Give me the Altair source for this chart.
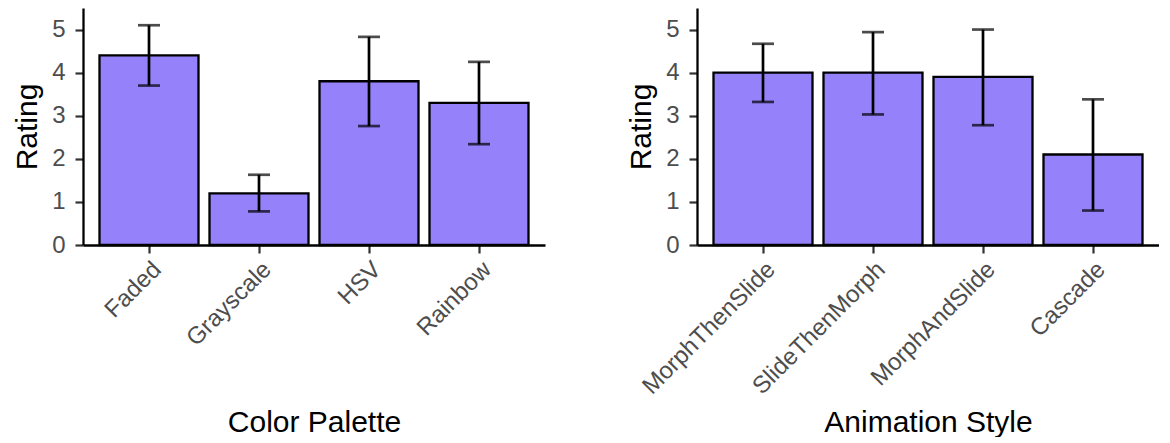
import altair as alt
import pandas as pd

palette_names = ["Faded", "Grayscale", "HSV", "Rainbow"]
palette_mean = [4.4, 1.2, 3.8, 3.3]
palette_lo = [3.7, 0.78, 2.76, 2.34]
palette_hi = [5.1, 1.63, 4.83, 4.25]

anim_names = ["MorphThenSlide", "SlideThenMorph", "MorphAndSlide", "Cascade"]
anim_mean = [4.0, 4.0, 3.9, 2.1]
anim_lo = [3.32, 3.03, 2.78, 0.8]
anim_hi = [4.67, 4.94, 5.0, 3.38]

FILL = "#9581F9"
FONT = "Liberation Sans"


def panel(names, mean, lo, hi, xtitle):
    df = pd.DataFrame({"cat": names, "mean": mean, "lo": lo, "hi": hi})
    x = alt.X(
        "cat:N",
        sort=names,
        title=xtitle,
        scale=alt.Scale(paddingInner=0.1, paddingOuter=0.15),
        axis=alt.Axis(
            labelAngle=-45,
            labelAlign="right",
            labelBaseline="top",
            labelPadding=4,
            titleY=186,
            titleBaseline="alphabetic",
        ),
    )
    y = alt.Y(
        "mean:Q",
        title="Rating",
        scale=alt.Scale(domain=[0, 5.5], nice=False, zero=True),
        axis=alt.Axis(values=[0, 1, 2, 3, 4, 5], labelPadding=10, titlePadding=9),
    )
    base = alt.Chart(df)
    bars = base.mark_bar(fill=FILL, stroke="black", strokeWidth=2.3).encode(x=x, y=y)
    rule = base.mark_rule(color="black", strokeWidth=2.7).encode(
        x=alt.X("cat:N", sort=names), y="lo:Q", y2="hi:Q"
    )
    tlo = base.mark_tick(color="black", thickness=2.7, size=22).encode(
        x=alt.X("cat:N", sort=names), y="lo:Q"
    )
    thi = base.mark_tick(color="black", thickness=2.7, size=22).encode(
        x=alt.X("cat:N", sort=names), y="hi:Q"
    )
    return alt.layer(bars, rule, tlo, thi).properties(width=462, height=237)


left = panel(palette_names, palette_mean, palette_lo, palette_hi, "Color Palette")
right = panel(anim_names, anim_mean, anim_lo, anim_hi, "Animation Style")

chart = (
    alt.hconcat(left, right, spacing=81)
    .properties(padding={"left": 4, "top": 0, "right": 0, "bottom": 0})
    .configure_view(stroke=None)
    .configure_axis(
        grid=False,
        domainColor="black",
        domainWidth=2.3,
        tickColor="#333333",
        tickWidth=2.2,
        tickSize=8,
        labelFont=FONT,
        labelFontSize=24,
        labelColor="#4D4D4D",
        titleFont=FONT,
        titleFontSize=30,
        titleFontWeight="normal",
        titleColor="black",
    )
)

chart.save("out.html", embed_options={"renderer": "svg", "actions": False})
